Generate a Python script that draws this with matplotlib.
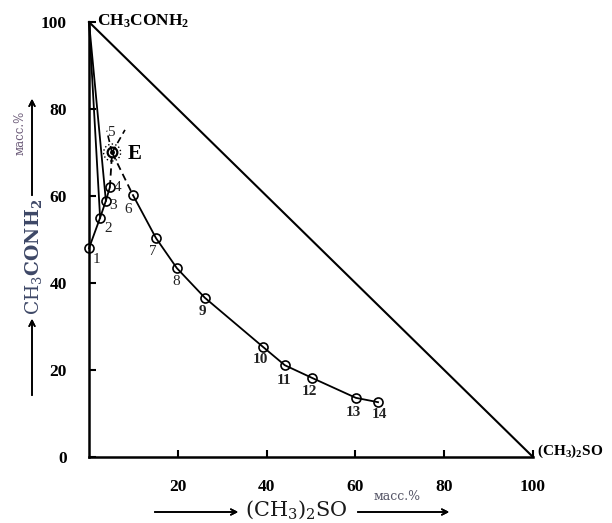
import matplotlib
matplotlib.use('Agg')
import matplotlib.pyplot as plt
from matplotlib.patches import Ellipse

plt.rcParams['font.family'] = 'Liberation Serif'
plt.rcParams['mathtext.fontset'] = 'custom'
plt.rcParams['mathtext.rm'] = 'Liberation Serif'
plt.rcParams['mathtext.bf'] = 'Liberation Serif:bold'

# solubility curve, masses %
dmso_a = [0.0, 2.5, 3.8, 4.7]          # points 1-4 (branch on acetamide side)
acet_a = [48.0, 55.0, 58.9, 62.0]
eut_x, eut_y = 5.2, 70.0               # point 5 = E
dmso_b = [9.9, 15.1, 19.8, 26.1, 39.2, 44.1, 50.2, 60.1, 65.1]   # points 6-14
acet_b = [60.2, 50.3, 43.4, 36.6, 25.3, 21.1, 18.2, 13.6, 12.6]
# metastable continuations beyond E
meta_x = [4.0, 8.1]
meta_y = [75.0, 75.2]
# tie lines from pure acetamide vertex
tie_x = [2.5, 3.8]
tie_y = [55.0, 58.9]

labels_a = ['1', '2', '3', '4']
labels_b = ['6', '7', '8', '9', '10', '11', '12', '13', '14']
offs_a = [(7, -11), (8, -11), (7, -5), (8, 0)]
offs_b = [(-5, -14), (-3, -13), (-1, -13), (-3, -14), (-3, -13), (-1, -15), (-2, -14), (-2, -15), (1, -12)]

fig = plt.figure(figsize=(6.12, 5.23), dpi=100)
ax = fig.add_axes([89 / 612, 66 / 523, 444 / 612, 435 / 523])

ax.set_xlim(0, 100)
ax.set_ylim(0, 100)
for s in ['top', 'right']:
    ax.spines[s].set_visible(False)
for s in ['left', 'bottom']:
    ax.spines[s].set_linewidth(1.8)

# triangle hypotenuse and tie lines
ax.plot([0, 100], [100, 0], color='black', lw=1.5, clip_on=False)
for tx, ty in zip(tie_x, tie_y):
    ax.plot([0, tx], [100, ty], color='black', lw=1.3, clip_on=False)

mk = dict(marker='o', mfc='none', mec='black', ms=6.5, mew=1.2, color='black', lw=1.3, clip_on=False)
ax.plot(dmso_a, acet_a, **mk)
ax.plot(dmso_b, acet_b, **mk)
ax.plot([dmso_a[-1], eut_x, dmso_b[0]], [acet_a[-1], eut_y, acet_b[0]], color='black', lw=1.3, ls=(0, (4, 2.5)))
for mx, my in zip(meta_x, meta_y):
    ax.plot([eut_x, mx], [eut_y, my], color='black', lw=1.2, ls=(0, (4, 2.5)))

ax.plot([eut_x], [eut_y], marker='o', mfc='none', mec='black', ms=7, mew=1.6)
ax.plot([eut_x], [eut_y], marker='o', color='black', ms=2.5)
ax.add_patch(Ellipse((eut_x, eut_y), 17 / 4.44, 17 / 4.35, fill=False, ls=':', lw=1.0, ec='black'))
ax.text(eut_x + 3.5, eut_y - 0.4, 'E', fontsize=15, fontweight='bold', va='center', ha='left')
ax.annotate('5', (eut_x, eut_y), xytext=(-1, 20), textcoords='offset pixels', fontsize=11,
            ha='center', va='center', color='#222222')

for lab, x, y, off in zip(labels_a, dmso_a, acet_a, offs_a):
    ax.annotate(lab, (x, y), xytext=off, textcoords='offset pixels', fontsize=11,
                ha='center', va='center', color='#222222')
for lab, x, y, off in zip(labels_b, dmso_b, acet_b, offs_b):
    wt = 'bold' if int(lab) >= 9 else 'normal'
    ax.annotate(lab, (x, y), xytext=off, textcoords='offset pixels', fontsize=11,
                ha='center', va='center', color='#222222', fontweight=wt)

ax.set_xticks([20, 40, 60, 80, 100])
ax.set_yticks([0, 20, 40, 60, 80, 100])
ax.tick_params(direction='in', length=5, width=1.5, pad=16, labelsize=12.5)
for t in ax.get_xticklabels() + ax.get_yticklabels():
    t.set_fontweight('bold')

ax.text(1.8, 100.2, r'$\mathbf{CH_3CONH_2}$', fontsize=12.5, ha='left', va='center')
ax.text(100.8, 1.3, r'$\mathbf{(CH_3)_2SO}$', fontsize=11, ha='left', va='center')

# axis captions with arrows (pixel positions in figure)
def fp(x, y):
    return (x / 612, 1 - y / 523)

arr = dict(arrowstyle='->', color='black', lw=1.2, mutation_scale=10)
fig.add_artist(plt.annotate('', xy=fp(452, 512), xytext=fp(355, 512), xycoords='figure fraction', arrowprops=arr))
fig.add_artist(plt.annotate('', xy=fp(241, 512), xytext=fp(152, 512), xycoords='figure fraction', arrowprops=arr))
fig.text(*fp(296, 510), r'(CH$_3$)$_2$SO', fontsize=15, family='DejaVu Serif', math_fontfamily='dejavuserif',
         ha='center', va='center', color='#1a1a1a')
fig.text(*fp(397, 497), 'масс.%', fontsize=9, family='DejaVu Serif', ha='center', va='center', color='#555566')

fig.add_artist(plt.annotate('', xy=fp(32, 316), xytext=fp(32, 398), xycoords='figure fraction', arrowprops=arr))
fig.add_artist(plt.annotate('', xy=fp(32, 96), xytext=fp(32, 198), xycoords='figure fraction', arrowprops=arr))
fig.text(*fp(33, 257), r'CH$_3$$\mathbf{CONH_2}$', fontsize=13.5, family='DejaVu Serif', math_fontfamily='dejavuserif',
         rotation=90, ha='center', va='center', color='#3d4766')
fig.text(*fp(20, 133), 'масс.%', fontsize=8.5, family='DejaVu Serif', rotation=90, ha='center', va='center', color='#6b5a78')

fig.savefig('out.png', dpi=100)
